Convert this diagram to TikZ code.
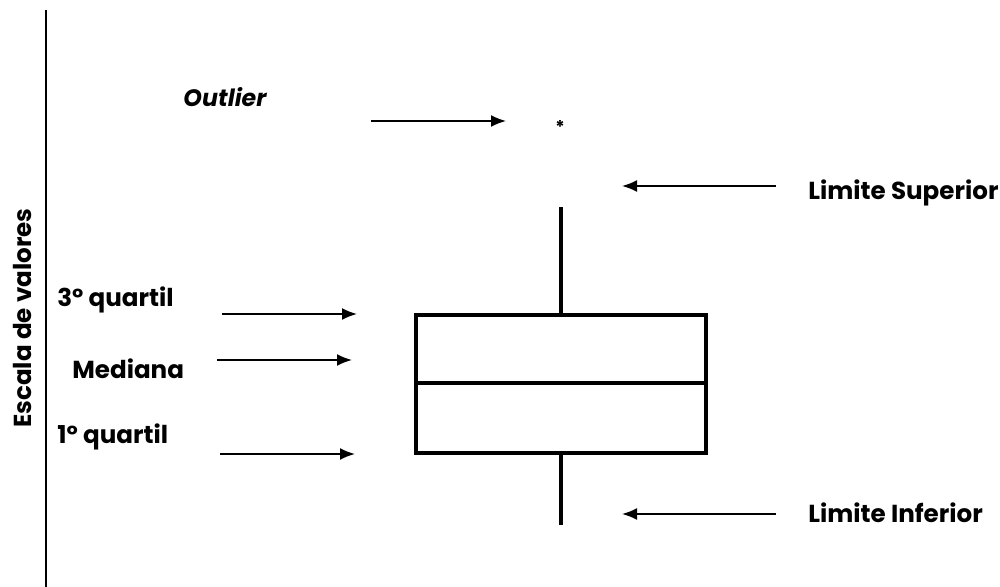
\documentclass[tikz,border=0pt]{standalone}
\usepackage{fontspec}
\setmainfont{Poppins}
\usetikzlibrary{arrows.meta}

\begin{document}
\begin{tikzpicture}[
			x=0.02cm, y=-0.02cm,
			label/.style={font=\bfseries\fontsize{14}{16}\selectfont, inner sep=0pt},
			pointer/.style={>={Latex[length=3mm,width=2.4mm]}, draw=black, line width=1pt, ->},
			boxline/.style={draw=black, line width=1.8pt}
			]
			\useasboundingbox (0,0) rectangle (1000,587);
			% escala
			\coordinate (ax1) at (46,10);
			\coordinate (ax2) at (46,587);
			\draw[line width=1pt] (ax1) -- (ax2);
			\node[label, rotate=90] (escala) at (22,318) {Escala de valores};
			% caixa
			\node[boxline, minimum width=290*0.02cm, minimum height=138*0.02cm,
				inner sep=0pt] (box) at (561,384) {};
			\coordinate (med1) at (416,383);
			\coordinate (med2) at (706,383);
			\draw[boxline] (med1) -- (med2);
			\coordinate (sup) at (561,207);
			\coordinate (inf) at (561,525);
			\draw[boxline] (box.north) -- (sup);
			\draw[boxline] (box.south) -- (inf);
			\node[inner sep=0pt, font=\bfseries] (out) at (560,127) {*};
			% textos
			\node[label, font=\bfseries\itshape\fontsize{13.5}{16}\selectfont] (outlier) at (225,97) {Outlier};
			\node[label, anchor=west] (lsup) at (808,193) {Limite Superior};
			\node[label, anchor=west] (linf) at (808,513) {Limite Inferior};
			\node[label, anchor=west] (q3) at (57,300) {3º quartil};
			\node[label, anchor=west] (mediana) at (72,369) {Mediana};
			\node[label, anchor=west] (q1) at (57,437) {1º quartil};
			% setas
			\coordinate (a1) at (371,121);  \coordinate (b1) at (506,121);
			\coordinate (a2) at (776,186);  \coordinate (b2) at (622,186);
			\coordinate (a3) at (776,514);  \coordinate (b3) at (622,514);
			\coordinate (a4) at (222,314);  \coordinate (b4) at (357,314);
			\coordinate (a5) at (217,360);  \coordinate (b5) at (352,360);
			\coordinate (a6) at (220,454);  \coordinate (b6) at (355,454);
			\foreach \i in {1,...,6}
				\draw[pointer] (a\i) -- (b\i);
		\end{tikzpicture}
\end{document}
